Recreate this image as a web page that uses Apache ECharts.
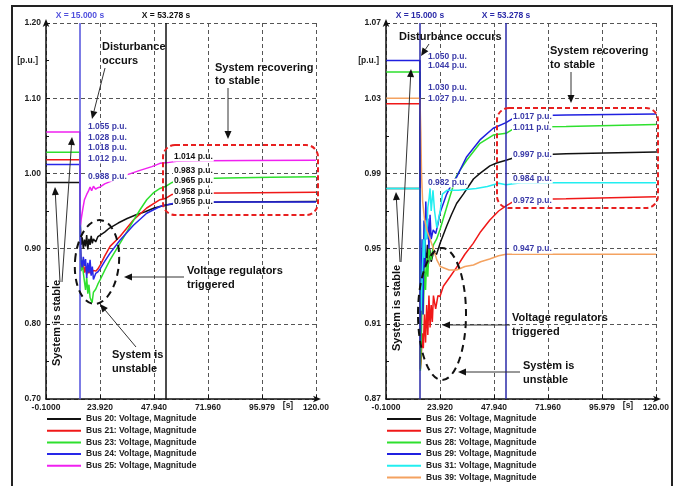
<!DOCTYPE html>
<html><head><meta charset="utf-8">
<script src="https://cdn.jsdelivr.net/npm/echarts@6/dist/echarts.min.js"></script>
<style>html,body{margin:0;padding:0;background:#fff}#c{width:681px;height:486px}</style>
</head><body><div id="c"></div>
<script>
// ---- tick labels ----
const xTickLabels = ['-0.1000','23.920','47.940','71.960','95.979','120.00'];
const leftYTicks = ['0.70','0.80','0.90','1.00','1.10','1.20'];
const rightYTicks = ['0.87','0.91','0.95','0.99','1.03','1.07'];
const cursorTimes = [15.000, 53.278];

// ---- left panel series: [time s, voltage p.u.] ----
const bus20 = [[0,0.988],[15,0.988],[15.2,0.93],[15.5,0.905],[16,0.915],[16.5,0.9],[17,0.912],[17.5,0.903],[18,0.918],[18.5,0.899],[19,0.913],[19.5,0.905],[20,0.917],[20.5,0.907],[21,0.913],[22,0.909],[23,0.916],[24,0.918],[26,0.922],[28,0.927],[32,0.934],[36,0.94],[40,0.945],[44,0.949],[48,0.954],[53.3,0.958],[60,0.961],[80,0.962],[120,0.9625]];
const bus21 = [[0,1.018],[15,1.018],[15.2,0.9],[15.5,0.878],[16,0.872],[16.5,0.88],[17,0.868],[17.5,0.876],[18,0.866],[18.5,0.874],[19,0.867],[19.5,0.873],[20,0.866],[21,0.871],[22,0.87],[23,0.873],[24,0.878],[26,0.89],[28.4,0.903],[32.8,0.916],[38.8,0.938],[44.7,0.954],[50.6,0.965],[53.3,0.967],[56,0.972],[60,0.9735],[80,0.974],[120,0.975]];
const bus23 = [[0,1.028],[15,1.028],[15.2,0.9],[15.5,0.87],[16,0.885],[16.5,0.868],[17,0.856],[17.5,0.845],[18,0.862],[18.5,0.84],[19,0.852],[19.5,0.835],[20.4,0.828],[21,0.842],[22,0.846],[23,0.853],[23.9,0.858],[26,0.871],[28.4,0.885],[32.8,0.907],[35.8,0.922],[38.9,0.938],[41.8,0.952],[44.7,0.965],[47.6,0.974],[50.6,0.98],[53.3,0.983],[56,0.988],[60,0.9925],[80,0.994],[100,0.995],[120,0.9956]];
const bus24 = [[0,1.012],[15,1.012],[15.2,0.92],[15.5,0.885],[16,0.875],[16.5,0.889],[17,0.877],[17.5,0.886],[18,0.861],[18.5,0.881],[19,0.868],[19.5,0.885],[20,0.864],[20.5,0.876],[21,0.859],[22,0.867],[23,0.869],[24,0.873],[26,0.883],[28.4,0.894],[32.8,0.911],[38.8,0.931],[44.7,0.947],[50.6,0.956],[53.3,0.958],[58,0.961],[70,0.962],[120,0.962]];
const bus25 = [[0,1.055],[15,1.055],[15.2,0.931],[15.6,0.94],[16.3,0.953],[17,0.965],[18,0.972],[18.7,0.976],[19.5,0.982],[20.2,0.977],[21,0.983],[22,0.979],[23,0.981],[24,0.982],[26,0.986],[28.4,0.989],[32,0.994],[35.8,0.998],[41.7,1.004],[47,1.009],[50.6,1.0134],[53.3,1.014],[58,1.016],[70,1.0168],[90,1.017],[120,1.0175]];

// ---- right panel series ----
const bus26 = [[0,0.982],[15,0.982],[15.3,0.95],[15.8,0.94],[16.3,0.948],[16.8,0.937],[17.3,0.95],[17.8,0.94],[18.3,0.952],[18.8,0.942],[19.3,0.95],[20,0.943],[21,0.948],[22.4,0.947],[24,0.953],[26.9,0.962],[29,0.968],[31.3,0.974],[34.3,0.979],[38.8,0.987],[41.7,0.99],[46.1,0.994],[49.1,0.9955],[53.3,0.997],[60,0.9995],[80,1.0005],[120,1.0014]];
const bus27 = [[0,1.027],[15,1.027],[15.2,0.886],[15.5,0.89],[16,0.905],[16.5,0.897],[17,0.915],[17.5,0.9],[18,0.92],[18.5,0.904],[19,0.925],[19.5,0.908],[20,0.92],[20.5,0.911],[21,0.925],[22,0.918],[23,0.925],[23.9,0.9245],[25.4,0.93],[28.4,0.935],[31.3,0.94],[35,0.947],[38.7,0.9528],[42,0.959],[46.1,0.9652],[50,0.97],[53.3,0.9727],[58,0.976],[80,0.9765],[120,0.9776]];
const bus28 = [[0,1.044],[15,1.044],[15.2,0.885],[15.6,0.9],[16,0.93],[16.5,0.915],[17,0.94],[17.5,0.928],[18,0.945],[18.5,0.935],[19,0.95],[20,0.944],[21,0.952],[22.4,0.955],[23.9,0.96],[26.9,0.972],[28.4,0.978],[31,0.988],[33,0.992],[35.8,0.997],[41.7,1.006],[47.6,1.0104],[53.3,1.0113],[58,1.0147],[80,1.015],[120,1.016]];
const bus29 = [[0,1.05],[15,1.05],[15.2,0.9],[15.5,0.93],[16,0.955],[16.4,0.915],[16.8,0.965],[17.2,0.94],[17.6,0.975],[18,0.955],[18.5,0.966],[19,0.95],[19.5,0.968],[20,0.955],[20.9,0.96],[22,0.958],[23,0.963],[23.9,0.969],[26.9,0.979],[29.8,0.986],[31.3,0.988],[35.8,0.9989],[41.7,1.0078],[47.6,1.014],[53.3,1.017],[58,1.0205],[80,1.021],[120,1.0216]];
const bus31 = [[0,0.982],[15,0.982],[15.2,0.93],[15.5,0.917],[16,0.935],[16.5,0.955],[17,0.945],[17.5,0.965],[18,0.955],[18.5,0.972],[19,0.976],[19.5,0.982],[20,0.97],[20.8,0.981],[21.5,0.97],[22.5,0.961],[23.3,0.96],[24,0.97],[25,0.979],[27,0.981],[32,0.981],[40,0.982],[45,0.983],[50,0.9848],[53.3,0.984],[60,0.985],[120,0.985]];
const bus39 = [[0,1.03],[15,1.03],[15.4,1.012],[15.7,0.99],[16.2,0.975],[17,0.966],[18,0.96],[19.5,0.955],[21,0.95],[22.5,0.944],[24,0.9405],[28,0.9386],[31.3,0.9386],[35,0.9405],[38.8,0.9413],[42,0.943],[46,0.9445],[50,0.9462],[53.3,0.947],[60,0.947],[120,0.947]];

const leftNames = ['Bus 20: Voltage, Magnitude','Bus 21: Voltage, Magnitude','Bus 23: Voltage, Magnitude','Bus 24: Voltage, Magnitude','Bus 25: Voltage, Magnitude'];
const rightNames = ['Bus 26: Voltage, Magnitude','Bus 27: Voltage, Magnitude','Bus 28: Voltage, Magnitude','Bus 29: Voltage, Magnitude','Bus 31: Voltage, Magnitude','Bus 39: Voltage, Magnitude'];
const leftColors = ['#111111','#f01818','#2ee02e','#2828e8','#f020f0'];
const rightColors = ['#111111','#f01818','#2ee02e','#2020e0','#22eef0','#f4a260'];

// cursor readout texts
const leftC1 = ['1.055 p.u.','1.028 p.u.','1.018 p.u.','1.012 p.u.','0.988 p.u.'];
const leftC2 = ['1.014 p.u.','0.983 p.u.','0.965 p.u.','0.958 p.u.','0.955 p.u.'];
const rightC1 = ['1.050 p.u.','1.044 p.u.','1.030 p.u.','1.027 p.u.','0.982 p.u.'];
const rightC2 = ['1.017 p.u.','1.011 p.u.','0.997 p.u.','0.984 p.u.','0.972 p.u.','0.947 p.u.'];

const X_OFF = 0.1;        // axis starts at -0.1 s
const R_OFF = 0.87;       // right axis starts at 0.87 p.u.
const FONT = '"Liberation Sans", Arial, sans-serif';

function mk(name, pts, color, gi, yoff){
  return {type:'line', name, xAxisIndex:gi, yAxisIndex:gi, data: pts.map(p=>[p[0]+X_OFF, p[1]-yoff]),
    showSymbol:false, symbol:'none', color, lineStyle:{width:1.5, color}, animation:false, silent:true, z:2};
}
function cursor(t, color){
  return {xAxis: t + X_OFF, lineStyle:{color, width:1.5, type:'solid'},
    label:{show:true, position:'end', formatter:'X = ' + t.toFixed(3) + ' s', color, fontSize:8.5, fontWeight:'bold', fontFamily:FONT, distance:3}};
}

const leftSeries = [bus20,bus21,bus23,bus24,bus25].map((d,i)=>mk(leftNames[i], d, leftColors[i], 0, 0));
const rightSeries = [bus26,bus27,bus28,bus29,bus31,bus39].map((d,i)=>mk(rightNames[i], d, rightColors[i], 1, R_OFF));
leftSeries[0].markLine = {symbol:'none', silent:true, animation:false, data:[cursor(cursorTimes[0],'#5050dd'), cursor(cursorTimes[1],'#111111')]};
rightSeries[0].markLine = {symbol:'none', silent:true, animation:false, data:[cursor(cursorTimes[0],'#2a2aa8'), cursor(cursorTimes[1],'#2a2aa8')]};

function xAx(gi){
  return {type:'value', gridIndex:gi, min:0, max:120.1, interval:24.02,
    axisLine:{show:true, lineStyle:{color:'#111', width:1.5}, symbol:['none','arrow'], symbolSize:[5,8], symbolOffset:[0,5]},
    axisTick:{show:true, inside:true, length:4, lineStyle:{color:'#111'}},
    axisLabel:{formatter:v=>xTickLabels[Math.round(v/24.02)], fontSize:8.5, fontWeight:'bold', color:'#222', margin:4, fontFamily:FONT},
    splitLine:{show:true, lineStyle:{color:'#555', type:[4,3], width:1}}};
}
function yAx(gi, min, max, interval, off, labels){
  return {type:'value', gridIndex:gi, min, max, interval,
    axisLine:{show:true, lineStyle:{color:'#111', width:1.5}, symbol:['none','arrow'], symbolSize:[5,8], symbolOffset:[0,4]},
    axisTick:{show:true, inside:true, length:4, lineStyle:{color:'#111'}},
    minorTick:{show:true, splitNumber:2, length:3, lineStyle:{color:'#111'}},
    axisLabel:{formatter:v=>labels[Math.round((v-min)/interval)], fontSize:8.5, fontWeight:'bold', color:'#222', margin:5, fontFamily:FONT},
    splitLine:{show:true, lineStyle:{color:'#555', type:[4,3], width:1}}};
}

// ---- annotation graphics (pixel layout) ----
const G = [];
function txt(x,y,s,o){
  o = o || {};
  G.push({type:'text', x, y, rotation:o.rot||0, z:100,
    style:{text:s, font:'bold '+(o.size||11)+'px '+FONT, fill:o.color||'#111', align:o.align||'left', verticalAlign:'middle',
      backgroundColor:o.bg||null, padding:o.bg?[0,1,0,1]:0}});
}
function arrow(x1,y1,x2,y2){
  const a = Math.atan2(y2-y1, x2-x1), L=8, W=3.5;
  const bx = x2 - L*Math.cos(a), by = y2 - L*Math.sin(a);
  G.push({type:'line', z:100, shape:{x1,y1,x2:bx,y2:by}, style:{stroke:'#333', lineWidth:1}});
  G.push({type:'polygon', z:100, shape:{points:[[x2,y2],[bx - W*Math.sin(a), by + W*Math.cos(a)],[bx + W*Math.sin(a), by - W*Math.cos(a)]]}, style:{fill:'#111'}});
}
function ell(cx,cy,rx,ry,rot){
  G.push({type:'ellipse', z:99, shape:{cx,cy,rx,ry}, rotation:rot, originX:cx, originY:cy,
    style:{fill:'none', stroke:'#111', lineWidth:2, lineDash:[7,5]}});
}
function rrect(x,y,w,h){
  G.push({type:'rect', z:99, shape:{x,y,width:w,height:h,r:12}, style:{fill:'none', stroke:'#e82020', lineWidth:2, lineDash:[5,3]}});
}

// frame
G.push({type:'rect', z:1, shape:{x:12,y:6,width:660,height:495}, style:{fill:'none', stroke:'#222', lineWidth:2}});

// units
txt(38,61,'[p.u.]',{size:8.5,align:'right',color:'#222'});
txt(379,61,'[p.u.]',{size:8.5,align:'right',color:'#222'});
txt(288,406,'[s]',{size:8.5,align:'center',color:'#222'});
txt(628,406,'[s]',{size:8.5,align:'center',color:'#222'});

// left readouts
const lc1y=[127,138,148,159,177]; leftC1.forEach((s,i)=>txt(87,lc1y[i],s,{size:8.5,color:'#3a3aa8',bg:'#fff'}));
const lc2y=[157,171,181,192,202]; leftC2.forEach((s,i)=>txt(173,lc2y[i],s,{size:8.5,color:'#111',bg:'#fff'}));
const rc1y=[57,66,88,99,183]; rightC1.forEach((s,i)=>txt(427,rc1y[i],s,{size:8.5,color:'#3a3aa8',bg:'#fff'}));
const rc2y=[117,128,155,179,201,249]; rightC2.forEach((s,i)=>txt(512,rc2y[i],s,{size:8.5,color:'#3a3aa8',bg:'#fff'}));

// left annotations
rrect(163,145,155,70);
ell(97,262,22,42,-0.08);
txt(102,47,'Disturbance'); txt(102,61,'occurs'); arrow(105,68,92,119);
txt(215,68,'System recovering'); txt(215,81,'to stable'); arrow(228,88,228,139);
txt(187,271,'Voltage regulators'); txt(187,285,'triggered'); arrow(184,277,124,277);
txt(112,355,'System is'); txt(112,369,'unstable'); arrow(136,347,100,304);
txt(57,323,'System is stable',{rot:Math.PI/2,align:'center'});
arrow(60,282,55,187); arrow(62,282,72,137);

// right annotations
rrect(497,108,161,100);
ell(442,314,24,66,0);
txt(399,37,'Disturbance occurs'); arrow(429,44,421,56);
txt(550,51,'System recovering'); txt(550,65,'to stable'); arrow(571,72,571,103);
txt(512,318,'Voltage regulators'); txt(512,332,'triggered'); arrow(510,325,442,325);
txt(523,366,'System is'); txt(523,380,'unstable'); arrow(520,372,458,372);
txt(397,308,'System is stable',{rot:Math.PI/2,align:'center'});
arrow(400,262,396,192); arrow(401,262,411,69);

const legendBase = {orient:'vertical', itemWidth:34, itemHeight:2, icon:'rect', itemGap:1.7, selectedMode:false, padding:0, height:90,
  textStyle:{fontSize:8.5, fontWeight:'bold', color:'#222', lineHeight:10, fontFamily:FONT}};

const chart = echarts.init(document.getElementById('c'), null, {renderer:'canvas'});
chart.setOption({
  animation:false,
  backgroundColor:'#fff',
  textStyle:{fontFamily:FONT},
  grid:[{left:46, top:23, width:270, height:376},{left:386, top:23, width:270, height:376}],
  xAxis:[xAx(0), xAx(1)],
  yAxis:[yAx(0,0.7,1.2,0.1,0,leftYTicks), yAx(1,0,0.2,0.04,R_OFF,rightYTicks)],
  legend:[Object.assign({}, legendBase, {data:leftNames, left:47, top:414}),
          Object.assign({}, legendBase, {data:rightNames, left:387, top:414})],
  series: leftSeries.concat(rightSeries),
  graphic: G
});
</script></body></html>
